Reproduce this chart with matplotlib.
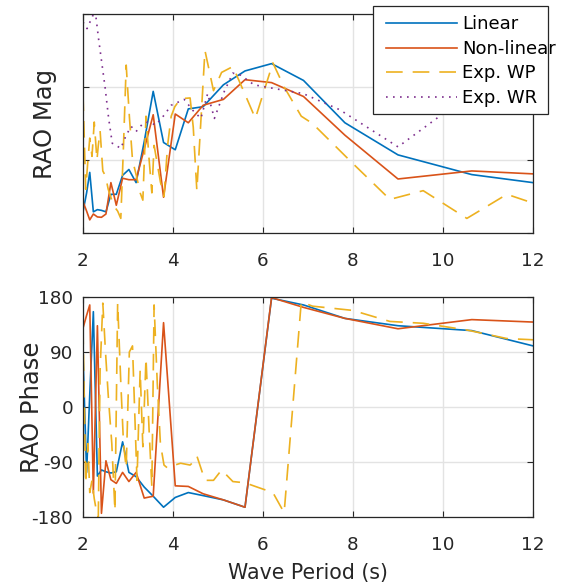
import matplotlib
matplotlib.use("Agg")
import matplotlib.pyplot as plt
from matplotlib.patches import Rectangle
from matplotlib.lines import Line2D

plt.rcParams['font.family'] = ['DejaVu Sans']

# ---- model data (linear / non-linear) ----
period = [2.00, 2.08, 2.15, 2.23, 2.32, 2.41, 2.51, 2.62, 2.74, 2.88, 3.02, 3.18, 3.36,
          3.56, 3.79, 4.05, 4.34, 4.67, 5.12, 5.60, 6.19, 6.90, 7.82, 9.00, 10.64, 12.00]
lin_mag = [0.29, 0.55, 0.83, 0.29, 0.32, 0.31, 0.29, 0.53, 0.53, 0.79, 0.87, 0.69, 1.25,
           1.94, 1.24, 1.14, 1.70, 1.73, 2.03, 2.22, 2.32, 2.09, 1.51, 1.07, 0.80, 0.69]
nl_mag = [0.43, 0.30, 0.18, 0.26, 0.22, 0.215, 0.26, 0.69, 0.38, 0.75, 0.73, 0.73, 1.15,
          1.62, 0.49, 1.63, 1.51, 1.75, 1.83, 2.10, 2.06, 1.87, 1.34, 0.74, 0.85, 0.81]
lin_ph = [85, -107, 20, 156, -113, -103, -106, -108, -106, -57, -107, -114, -131,
          -146, -164, -148, -140, -145, -152, -164, 178, 167, 145, 133, 125, 100]
nl_ph = [129, 150, 167, -141, 133, -174, -88, -119, -125, -107, -122, -107, -149,
         -146, 138, -129, -130, -142, -152, -164, 179, 163, 145, 128, 143, 139]

# ---- experimental WP ----
wp_T = [2.00, 2.06, 2.11, 2.15, 2.20, 2.25, 2.31, 2.34, 2.38, 2.44, 2.50, 2.56, 2.64,
        2.71, 2.77, 2.84, 2.90, 2.96, 3.03, 3.10, 3.20, 3.27, 3.33, 3.40, 3.47, 3.53,
        3.58, 3.65, 3.72, 3.80, 3.88, 3.96, 4.04, 4.17, 4.38, 4.45, 4.53, 4.71, 4.90,
        5.08, 5.33, 5.60, 5.83, 6.22, 6.47, 6.85, 7.10, 8.00, 8.82, 9.56, 10.53, 11.42, 12.00]
wp_mag = [1.90, 0.60, 1.00, 1.30, 1.05, 1.52, 1.00, 1.20, 1.40, 0.85, 0.78, 0.60, 0.45,
          0.35, 0.30, 0.20, 1.20, 2.30, 1.60, 1.00, 0.75, 0.55, 0.45, 1.60, 1.00, 0.55,
          1.20, 0.95, 0.70, 0.50, 1.20, 1.60, 1.73, 1.84, 1.85, 1.45, 0.58, 2.50, 1.95,
          2.20, 2.28, 1.90, 1.57, 2.33, 2.00, 1.60, 1.50, 0.95, 0.46, 0.58, 0.20, 0.53, 0.41]
wp_ph = [130, -125, -60, -140, -120, -150, -175, -180, 60, 170, 90, 20, -60,
         -170, 170, 40, -60, -100, 90, 100, -120, 60, -65, 80, -40, -130,
         167, 40, -60, -95, -100, -98, -95, -92, -95, -90, -80, -120, -120,
         -103, -122, -124, -130, -140, -173, 172, 165, 158, 140, 137, 126, 112, 110]

# ---- experimental WR ----
wr_T = [2.00, 2.09, 2.27, 2.35, 2.49, 2.57, 2.65, 2.84, 2.96, 3.07, 3.18, 3.33, 3.44,
        3.62, 3.81, 3.96, 4.25, 4.44, 4.62, 4.77, 4.92, 5.14, 5.33, 5.51, 5.80, 6.24,
        6.89, 7.70, 9.00, 9.97, 10.64]
wr_mag = [2.89, 2.80, 3.05, 2.64, 2.00, 1.57, 1.23, 1.16, 1.34, 1.46, 1.39, 1.50, 1.52,
          1.48, 1.62, 1.75, 1.83, 1.68, 1.57, 1.91, 1.57, 1.94, 2.19, 2.16, 2.03, 1.98,
          1.91, 1.69, 1.18, 1.62, 2.10]

labels = ['Linear', 'Non-linear', 'Exp. WP', 'Exp. WR']

c_lin = '#0072BD'
c_nl = '#D95319'
c_wp = '#EDB120'
c_wr = '#7E2F8E'
lw = 1.2
dash_wp = (0, (10, 6))
dot_wr = (0, (1, 3.2))
txt_c = '#262626'

W, H = 563, 584
fig = plt.figure(figsize=(W/100, H/100), dpi=100)
ax1 = fig.add_axes([83/W, 1-233/H, 450/W, 219/H])
ax2 = fig.add_axes([83/W, 1-517/H, 450/W, 220/H])

ax1.plot(period, lin_mag, color=c_lin, lw=lw)
ax1.plot(period, nl_mag, color=c_nl, lw=lw)
ax1.plot(wp_T, wp_mag, color=c_wp, lw=lw, ls=dash_wp)
ax1.plot(wr_T, wr_mag, color=c_wr, lw=lw, ls=dot_wr)

ax2.plot(period, lin_ph, color=c_lin, lw=lw)
ax2.plot(period, nl_ph, color=c_nl, lw=lw)
ax2.plot(wp_T, wp_ph, color=c_wp, lw=lw, ls=dash_wp)

ax1.set_xlim(2, 12)
ax1.set_ylim(0, 3)
ax1.set_yticks([0, 1, 2, 3])
ax1.set_yticklabels([])
ax2.set_xlim(2, 12)
ax2.set_ylim(-180, 180)
ax2.set_yticks([-180, -90, 0, 90, 180])
ax2.set_yticklabels(['-180', '-90', '0', '90', '180'])

for ax in (ax1, ax2):
    ax.set_xticks([2, 4, 6, 8, 10, 12])
    ax.grid(True, color='#e3e3e3', lw=1.0)
    ax.set_axisbelow(True)
    ax.tick_params(direction='in', top=True, right=True, length=4, width=0.8,
                   color=txt_c, labelsize=13.2, labelcolor=txt_c)
    ax.tick_params(axis='x', pad=13.5)
    ax.tick_params(axis='y', pad=7)
    for s in ax.spines.values():
        s.set_color(txt_c)
        s.set_linewidth(0.9)

ax1.set_ylabel('RAO Mag', fontsize=17.5, color=txt_c)
ax2.set_ylabel('RAO Phase', fontsize=17.5, color=txt_c)
ax1.yaxis.set_label_coords((57-83)/450, 0.5)
ax2.yaxis.set_label_coords((44-83)/450, 0.5)
fig.text(307.5/W, 1-578.5/H, 'Wave Period (s)', fontsize=14.8, color=txt_c,
         ha='center', va='baseline')

# legend (box drawn like the reference: fixed frame, text may overflow)
fig.add_artist(Rectangle((373/W, 1-113.5/H), (548-373)/W, (113.5-5.5)/H,
                         transform=fig.transFigure, facecolor='white',
                         edgecolor=txt_c, lw=0.9, zorder=10))
leg_y = [23, 47.5, 72, 97]
styles = [(c_lin, '-'), (c_nl, '-'), (c_wp, dash_wp), (c_wr, dot_wr)]
for yy, lab, (col, ls) in zip(leg_y, labels, styles):
    fig.add_artist(Line2D([386/W, 457/W], [1-yy/H, 1-yy/H], transform=fig.transFigure,
                          color=col, lw=lw, ls=ls, zorder=11))
    fig.text(462/W, 1-(yy+1)/H, lab, fontsize=13, color='black', ha='left',
             va='center', zorder=12)

fig.savefig('out.png', dpi=100)
